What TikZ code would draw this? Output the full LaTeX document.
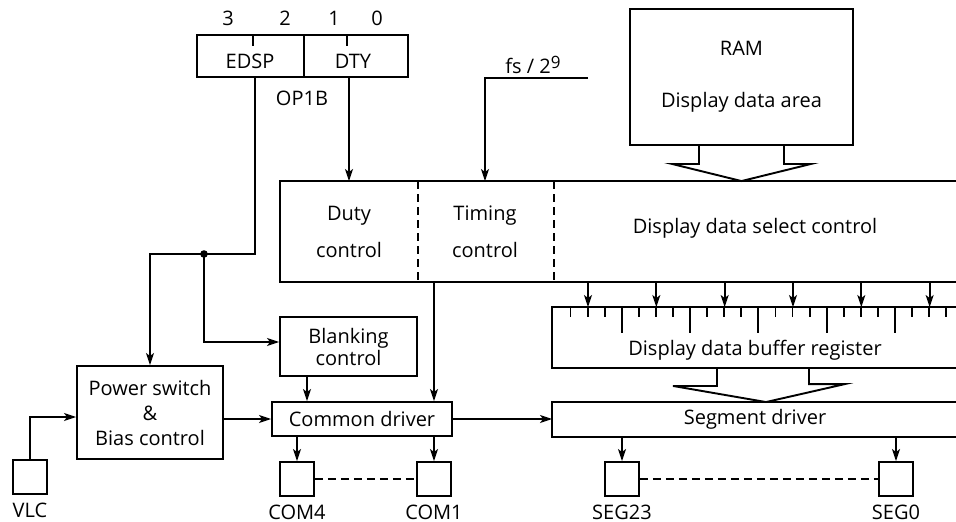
\documentclass[tikz,border=0pt]{standalone}
\usepackage{fontspec}
\setmainfont{Open Sans}
\usetikzlibrary{arrows.meta}
\begin{document}
\begin{tikzpicture}[x=1pt,y=-1pt,
  line width=1.9pt,
  >={Stealth[length=12pt,width=8pt,inset=3pt]},
  txt/.style={font=\fontsize{20}{24}\selectfont, inner sep=0, align=center},
  box/.style={draw, inner sep=0, align=center, font=\fontsize{20}{24}\selectfont},
  openbox/.style={draw=none, inner sep=0},
  pad/.style={draw, minimum width=34pt, minimum height=34pt, inner sep=0},
  padlabel/.style={txt, anchor=base},
  busline/.style={dash pattern=on 8pt off 5pt}]
\useasboundingbox[fill=white] (0,0) rectangle (956,522);

% ---- OP1B register ----
\node[draw, minimum width=107pt, minimum height=42pt, inner sep=0] (edsp) at (250.5,56) {};
\node[draw, minimum width=104pt, minimum height=42pt, inner sep=0] (dty) at (356,56) {};
\node[txt] at (250,61) {EDSP};
\node[txt] at (353,61) {DTY};
\draw (253,35) -- (253,46);
\draw (347,35) -- (347,46);
\node[txt] at (228,18) {3};
\node[txt] at (285,18) {2};
\node[txt] at (334,18) {1};
\node[txt] at (377,18) {0};
\node[txt] (op1b) at (302,98) {OP1B};

% ---- RAM ----
\node[box, minimum width=223pt, minimum height=136pt, font=\fontsize{20}{52}\selectfont] (ram) at (741.5,77) {RAM\\Display data area};

% ---- control block (open to the right) ----
\node[openbox, minimum width=136pt, minimum height=99pt, txt, font=\fontsize{20}{37}\selectfont] (duty) at (349,231.5) {Duty\\control};
\node[openbox, minimum width=136pt, minimum height=99pt, txt, font=\fontsize{20}{37}\selectfont] (timing) at (485,231.5) {Timing\\control};
\node[openbox, minimum width=407pt, minimum height=99pt] (sel) at (756.5,231.5) {};
\node[txt] at (755,228) {Display data select control};
\draw (sel.north east) -- (duty.north west) -- (duty.south west) -- (sel.south east);
\draw[busline] (duty.north east) -- (duty.south east);
\draw[busline] (timing.north east) -- (timing.south east);

% ---- buffer register (open to the right) ----
\node[openbox, minimum width=407pt, minimum height=59pt] (buf) at (756.5,337.5) {};
\node[txt] at (755,350) {Display data buffer register};
\draw (buf.north east) -- (buf.north west) -- (buf.south west) -- (buf.south east);
\foreach \k in {0,...,22}{
  \pgfmathsetmacro{\tx}{570.5+17.08*\k}
  \pgfmathtruncatemacro{\tm}{mod(\k,4)}
  \ifnum\tm=3
    \draw (\tx,308) -- (\tx,333);
  \else
    \draw (\tx,308) -- (\tx,317);
  \fi
}
\foreach \i in {0,...,5}{
  \pgfmathsetmacro{\ax}{588+68.33*\i}
  \coordinate (col\i) at (\ax,0);
  \draw[->] (col\i |- sel.south) -- (col\i |- buf.north);
}

% ---- segment driver (open to the right) ----
\node[openbox, minimum width=407pt, minimum height=33pt] (seg) at (756.5,419.5) {};
\node[txt] at (755,419.5) {Segment driver};
\draw (seg.north east) -- (seg.north west) -- (seg.south west) -- (seg.south east);

% ---- left side blocks ----
\node[box, minimum width=146pt, minimum height=93pt, font=\fontsize{20}{25}\selectfont] (power) at (150,412.5) {Power switch\\\&\\Bias control};
\node[box, minimum width=137pt, minimum height=59pt, font=\fontsize{20}{22}\selectfont] (blank) at (348.5,346.5) {Blanking\\control};
\node[box, minimum width=180pt, minimum height=34pt] (common) at (362,419) {Common driver};

% ---- pads ----
\node[pad] (vlc) at (30,477) {};
\node[pad] (com4) at (297,479) {};
\node[pad] (com1) at (434,479) {};
\node[pad] (seg23) at (622,479) {};
\node[pad] (seg0) at (896,479) {};
\node[padlabel] at (30,517) {VLC};
\node[padlabel] at (297,519) {COM4};
\node[padlabel] at (434,519) {COM1};
\node[padlabel] at (622,519) {SEG23};
\node[padlabel] at (896,519) {SEG0};
\draw[busline] (com4.east) -- (com1.west);
\draw[busline] (seg23.east) -- (seg0.west);

% ---- hollow data-path arrows ----
\draw ([xshift=-42.5pt]ram.south) -- ++(0,18) -- ++(-27,0) -- (ram.south |- sel.north)
      -- ([xshift=69.5pt,yshift=-18pt]ram.south) -- ++(-27,0) -- ([xshift=42.5pt]ram.south);
\coordinate (bl) at (717,0);
\coordinate (br) at (809,0);
\coordinate (bc) at (766,0);
\draw (bl |- buf.south) -- ++(0,18) -- ++(-44,0) -- (bc |- seg.north)
      -- ++(79,-18) -- ++(-36,0) -- (br |- buf.south);

% ---- control connections ----
\coordinate (j) at (204,254);
\coordinate (fs) at (588,78);
\coordinate (tc) at (434,0);
\coordinate (bx) at (307,0);
\coordinate (vy) at (0,417);
\coordinate (by) at (0,342);
\draw[->] ([xshift=4.5pt]edsp.south) |- (j) -| (power.north);
\draw[->] (j) |- (blank.west |- by);
\fill (j) circle (3.8pt);
\draw[->] ([xshift=-7pt]dty.south) -- (duty.north);
\draw[->] (fs) -| (timing.north);
\node[txt] at (533,65) {fs / 2\raisebox{5pt}{\fontsize{17}{20}\selectfont 9}};
\draw[->] (tc |- timing.south) -- (tc |- common.north);
\draw[->] (bx |- blank.south) -- (bx |- common.north);
\draw[->] (vlc.north) |- (power.west |- vy);
\draw[->] (power.east |- common.west) -- (common.west);
\draw[->] (common.east) -- (seg.west |- common.east);
\draw[->] (com4 |- common.south) -- (com4.north);
\draw[->] (com1 |- common.south) -- (com1.north);
\draw[->] (seg23 |- seg.south) -- (seg23.north);
\draw[->] (seg0 |- seg.south) -- (seg0.north);
\end{tikzpicture}
\end{document}
